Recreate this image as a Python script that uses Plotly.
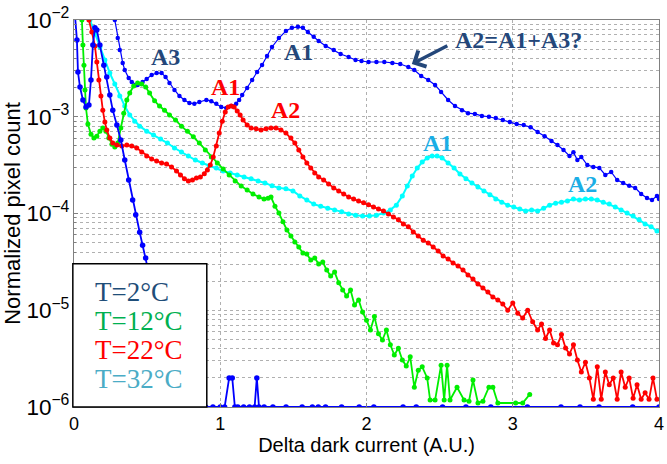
import plotly.graph_objects as go

# ---------------- data ----------------
# steep blue curve (T=2°C)
blue_low_x = [0.0, 0.02, 0.027, 0.041, 0.061, 0.082, 0.102, 0.116, 0.129, 0.143, 0.156, 0.177,
              0.204, 0.224, 0.245, 0.265, 0.293, 0.320, 0.347, 0.374, 0.401, 0.422, 0.449,
              0.469, 0.490, 0.510, 0.551, 0.619, 0.687, 0.72, 0.76, 0.80, 0.85, 0.90, 0.95,
              1.00, 1.03, 1.061, 1.082, 1.10, 1.12, 1.16, 1.20, 1.235, 1.25, 1.265, 1.30, 1.36,
              1.45, 1.56, 1.63, 1.67, 1.72, 1.83, 1.95, 2.05, 2.25, 2.34, 2.52, 2.68, 2.85,
              3.10, 3.33, 3.46, 3.59, 3.82, 4.0]
blue_low_y = [1.5e-2, 6.2e-3, 2.9e-3, 2.03e-3, 1.49e-3, 1.26e-3, 1.32e-3, 2.4e-3, 5.5e-3, 8.3e-3,
              7.9e-3, 5.5e-3, 3.4e-3, 2.58e-3, 1.68e-3, 1.17e-3, 8.2e-4, 5.75e-4, 3.57e-4,
              2.22e-4, 1.38e-4, 9.7e-5, 6.4e-5, 4.7e-5, 3.47e-5, 2.48e-5, 1.28e-5, 4.9e-6,
              1.9e-6, 1e-6, 1e-6, 1e-6, 1e-6, 1e-6, 1e-6,
              1e-6, 1e-6, 2e-6, 2e-6, 1e-6, 1e-6, 1e-6, 1e-6, 1e-6, 2e-6, 1e-6, 1e-6, 1e-6,
              1e-6, 1e-6, 1e-6, 1e-6, 1e-6, 1e-6, 1e-6, 1e-6, 1e-6, 1e-6, 1e-6, 1e-6, 1e-6,
              1e-6, 1e-6, 1e-6, 1e-6, 1e-6, 1e-6]

# upper blue curve (A3, A1, A2 peaks)
blue_high_x = [0.265, 0.279, 0.299, 0.313, 0.333, 0.347, 0.374, 0.395, 0.435, 0.469, 0.497,
               0.531, 0.565, 0.599, 0.626, 0.653, 0.687, 0.721, 0.755, 0.789, 0.823, 0.857,
               0.905, 0.939, 0.973, 1.007, 1.041, 1.075, 1.109, 1.129, 1.150, 1.184, 1.218,
               1.252, 1.286, 1.320, 1.354, 1.401, 1.449, 1.490, 1.531, 1.565, 1.599, 1.639,
               1.673, 1.721, 1.776, 1.823, 1.878, 1.925, 1.966, 2.014, 2.068, 2.122, 2.177,
               2.231, 2.286, 2.327, 2.374, 2.422, 2.469, 2.510, 2.558, 2.605, 2.653, 2.694,
               2.741, 2.789, 2.837, 2.884, 2.932, 2.980, 3.027, 3.075, 3.122, 3.170, 3.218,
               3.265, 3.306, 3.347, 3.388, 3.415, 3.442, 3.469, 3.510, 3.551, 3.592, 3.633,
               3.673, 3.714, 3.755, 3.796, 3.837, 3.878, 3.918, 3.952, 3.986, 4.0]
blue_high_y = [1.3e-2, 1e-2, 6.5e-3, 4.9e-3, 3.6e-3, 3.04e-3, 2.51e-3, 2.29e-3, 2.13e-3, 2.29e-3,
               2.46e-3, 2.7e-3, 2.83e-3, 2.83e-3, 2.58e-3, 2.23e-3, 1.89e-3, 1.64e-3, 1.49e-3,
               1.39e-3, 1.36e-3, 1.42e-3, 1.49e-3, 1.45e-3, 1.36e-3, 1.26e-3, 1.23e-3, 1.29e-3,
               1.36e-3, 1.49e-3, 1.68e-3, 1.98e-3, 2.4e-3, 2.9e-3, 3.43e-3, 4.25e-3, 5.26e-3,
               6.5e-3, 7.7e-3, 8.3e-3, 8.5e-3, 8.3e-3, 7.5e-3, 6.7e-3, 6.07e-3, 5.4e-3, 4.9e-3,
               4.45e-3, 4.15e-3, 3.86e-3, 3.77e-3, 3.68e-3, 3.68e-3, 3.68e-3, 3.6e-3, 3.51e-3,
               3.27e-3, 3.04e-3, 2.64e-3, 2.4e-3, 2.13e-3, 1.80e-3, 1.49e-3, 1.29e-3, 1.17e-3,
               1.09e-3, 1.07e-3, 1.02e-3, 1.0e-3, 9.7e-4, 9.25e-4, 8.8e-4, 8.4e-4, 8.2e-4,
               7.8e-4, 6.95e-4, 6.3e-4, 5.6e-4, 5.1e-4, 4.53e-4, 3.93e-4, 4.3e-4, 3.57e-4,
               3.84e-4, 3.17e-4, 3.03e-4, 2.96e-4, 2.5e-4, 2.69e-4, 2.22e-4, 2.07e-4, 1.93e-4,
               1.84e-4, 1.59e-4, 1.45e-4, 1.38e-4, 1.52e-4, 1.41e-4]

# green curve (T=12°C)
green_x = [0.048, 0.054, 0.061, 0.068, 0.075, 0.082, 0.095, 0.116, 0.136, 0.156, 0.177, 0.197,
           0.218, 0.238, 0.259, 0.279, 0.299, 0.320, 0.340, 0.361, 0.381, 0.408, 0.435, 0.463,
           0.490, 0.517, 0.551, 0.585, 0.619, 0.653, 0.694, 0.735, 0.776, 0.816, 0.857, 0.898,
           0.939, 0.980, 1.020, 1.061, 1.102, 1.143, 1.184, 1.224, 1.265, 1.299, 1.327, 1.347,
           1.374, 1.401, 1.429, 1.456, 1.483, 1.510, 1.537, 1.565, 1.592, 1.619, 1.646, 1.673,
           1.701, 1.728, 1.755, 1.782, 1.810, 1.837, 1.864, 1.891, 1.918, 1.946, 1.973, 2.0,
           2.027, 2.054, 2.082, 2.109, 2.136, 2.163, 2.190, 2.218, 2.245, 2.272, 2.299, 2.327,
           2.354, 2.381, 2.415, 2.435, 2.469, 2.510, 2.531, 2.551, 2.571, 2.619, 2.667, 2.701,
           2.728, 2.762, 2.796, 2.837, 2.864, 2.898, 3.020, 3.068, 3.116]
green_y = [1.3e-2, 1e-2, 5.5e-3, 3.4e-3, 1.89e-3, 1.23e-3, 8.4e-4, 6.6e-4, 6.03e-4, 6.3e-4, 7.1e-4,
           7.65e-4, 7.1e-4, 6.03e-4, 5.2e-4, 4.87e-4, 5.35e-4, 7.65e-4, 1.09e-3, 1.49e-3, 1.76e-3,
           2.08e-3, 2.23e-3, 2.18e-3, 2.03e-3, 1.76e-3, 1.46e-3, 1.29e-3, 1.17e-3, 1.04e-3,
           9.25e-4, 8.0e-4, 7.1e-4, 6.2e-4, 5.35e-4, 4.53e-4, 3.84e-4, 3.33e-4, 2.88e-4, 2.5e-4,
           2.17e-4, 1.92e-4, 1.75e-4, 1.59e-4, 1.48e-4, 1.41e-4, 1.44e-4, 1.48e-4, 1.19e-4,
           1.01e-4, 8.2e-5, 6.75e-5, 5.85e-5, 5.07e-5, 4.5e-5, 3.9e-5, 3.81e-5, 3.3e-5, 3.47e-5,
           3.0e-5, 3.15e-5, 2.6e-5, 2.26e-5, 2.48e-5, 1.92e-5, 1.62e-5, 1.40e-5, 1.62e-5, 1.13e-5,
           1.28e-5, 9.6e-6, 7.9e-6, 6.25e-6, 8.6e-6, 5.7e-6, 4.93e-6, 6.25e-6, 4.4e-6, 3.45e-6,
           4.05e-6, 3.06e-6, 2.65e-6, 3.3e-6, 1.6e-6, 2.4e-6, 2.6e-6, 2.0e-6, 1.18e-6, 1.18e-6,
           2.7e-6, 1.18e-6, 2.7e-6, 1.18e-6, 1.6e-6, 1.18e-6, 1.15e-6, 1.9e-6, 1.1e-6, 1.15e-6,
           1.6e-6, 1.6e-6, 1.1e-6, 1.1e-6, 1.1e-6, 1.35e-6]

# red curve (T=22°C)
red_x = [0.095, 0.102, 0.122, 0.143, 0.156, 0.170, 0.184, 0.197, 0.211, 0.224, 0.245, 0.265,
         0.293, 0.327, 0.361, 0.395, 0.429, 0.463, 0.497, 0.531, 0.565, 0.599, 0.633, 0.667,
         0.701, 0.728, 0.755, 0.782, 0.810, 0.837, 0.864, 0.891, 0.912, 0.932, 0.952, 0.973,
         0.993, 1.014, 1.034, 1.054, 1.075, 1.095, 1.116, 1.136, 1.156, 1.184, 1.211, 1.245,
         1.279, 1.313, 1.347, 1.381, 1.415, 1.449, 1.483, 1.510, 1.537, 1.565, 1.592, 1.619,
         1.646, 1.673, 1.707, 1.741, 1.776, 1.810, 1.844, 1.878, 1.912, 1.946, 1.980, 2.014,
         2.048, 2.082, 2.116, 2.150, 2.184, 2.218, 2.252, 2.286, 2.320, 2.354, 2.388, 2.422,
         2.456, 2.490, 2.524, 2.558, 2.592, 2.626, 2.660, 2.694, 2.728, 2.762, 2.796, 2.830,
         2.864, 2.898, 2.932, 2.966, 3.0, 3.034, 3.068, 3.102, 3.136, 3.170, 3.197, 3.224,
         3.252, 3.279, 3.306, 3.333, 3.361, 3.388, 3.415, 3.442, 3.469, 3.497, 3.524, 3.551,
         3.578, 3.605, 3.633, 3.660, 3.687, 3.714, 3.741, 3.769, 3.796, 3.823, 3.850, 3.878,
         3.905, 3.932, 3.959, 3.986]
red_y = [1.3e-2, 1e-2, 7.5e-3, 5.4e-3, 3.68e-3, 2.4e-3, 1.64e-3, 1.17e-3, 8.8e-4, 7.3e-4, 6.03e-4,
         5.35e-4, 5.1e-4, 4.98e-4, 5.1e-4, 4.98e-4, 4.75e-4, 4.33e-4, 3.93e-4, 3.66e-4, 3.49e-4,
         3.33e-4, 3.25e-4, 3.03e-4, 2.75e-4, 2.5e-4, 2.28e-4, 2.17e-4, 2.22e-4, 2.33e-4, 2.39e-4,
         2.57e-4, 2.82e-4, 3.17e-4, 3.84e-4, 4.99e-4, 6.8e-4, 9.0e-4, 1.12e-3, 1.26e-3, 1.29e-3,
         1.26e-3, 1.15e-3, 1.04e-3, 9.25e-4, 8.2e-4, 7.65e-4, 7.5e-4, 7.3e-4, 7.5e-4, 7.65e-4,
         7.65e-4, 7.3e-4, 6.8e-4, 6.03e-4, 5.35e-4, 4.53e-4, 3.84e-4, 3.33e-4, 2.95e-4, 2.62e-4,
         2.39e-4, 2.22e-4, 2.02e-4, 1.84e-4, 1.71e-4, 1.59e-4, 1.48e-4, 1.41e-4, 1.35e-4,
         1.29e-4, 1.23e-4, 1.17e-4, 1.11e-4, 1.06e-4, 9.9e-5, 9.2e-5, 8.6e-5, 7.8e-5, 7.3e-5,
         6.45e-5, 5.85e-5, 5.3e-5, 4.95e-5, 4.5e-5, 4.1e-5, 3.63e-5, 3.38e-5, 3.08e-5, 2.87e-5,
         2.6e-5, 2.31e-5, 2.1e-5, 1.87e-5, 1.7e-5, 1.54e-5, 1.37e-5, 1.28e-5, 1.16e-5, 1.0e-5,
         1.19e-5, 9.3e-6, 8.3e-6, 1.0e-5, 7.6e-6, 6.25e-6, 7.2e-6, 5.1e-6, 6.25e-6, 4.6e-6,
         4.4e-6, 5.6e-6, 4.07e-6, 3.53e-6, 4.4e-6, 3.06e-6, 2.3e-6, 2.9e-6, 2.0e-6, 1.2e-6,
         2.6e-6, 1.2e-6, 2.3e-6, 1.7e-6, 2.0e-6, 1.2e-6, 2.3e-6, 1.6e-6, 2.0e-6, 1.23e-6,
         1.7e-6, 1.2e-6, 1.4e-6, 1.2e-6, 2.0e-6, 1.2e-6]

# cyan curve (T=32°C)
cyan_x = [0.095, 0.109, 0.143, 0.177, 0.211, 0.245, 0.279, 0.313, 0.347, 0.381, 0.415, 0.449,
          0.497, 0.544, 0.592, 0.639, 0.687, 0.735, 0.782, 0.830, 0.878, 0.925, 0.973, 1.020,
          1.068, 1.116, 1.163, 1.211, 1.259, 1.306, 1.354, 1.401, 1.449, 1.497, 1.544, 1.592,
          1.639, 1.687, 1.735, 1.782, 1.830, 1.878, 1.925, 1.973, 2.020, 2.068, 2.116, 2.163,
          2.204, 2.245, 2.279, 2.313, 2.347, 2.381, 2.415, 2.449, 2.483, 2.517, 2.558, 2.599,
          2.639, 2.680, 2.721, 2.762, 2.803, 2.844, 2.884, 2.925, 2.966, 3.007, 3.048, 3.088,
          3.129, 3.170, 3.211, 3.252, 3.293, 3.333, 3.374, 3.415, 3.456, 3.497, 3.537, 3.578,
          3.619, 3.660, 3.701, 3.741, 3.782, 3.823, 3.864, 3.905, 3.946, 3.986]
cyan_y = [1.3e-2, 1e-2, 7.3e-3, 5.26e-3, 3.86e-3, 2.83e-3, 2.18e-3, 1.64e-3, 1.29e-3, 1.04e-3,
          9.0e-4, 8.0e-4, 7.1e-4, 6.47e-4, 5.9e-4, 5.35e-4, 4.75e-4, 4.33e-4, 3.93e-4, 3.57e-4,
          3.33e-4, 3.11e-4, 2.95e-4, 2.75e-4, 2.62e-4, 2.5e-4, 2.39e-4, 2.28e-4, 2.17e-4,
          2.07e-4, 1.93e-4, 1.84e-4, 1.80e-4, 1.71e-4, 1.52e-4, 1.38e-4, 1.25e-4, 1.19e-4,
          1.13e-4, 1.09e-4, 1.04e-4, 9.9e-5, 9.6e-5, 9.4e-5, 9.4e-5, 9.6e-5, 1.01e-4, 1.09e-4,
          1.22e-4, 1.52e-4, 1.92e-4, 2.44e-4, 2.95e-4, 3.4e-4, 3.75e-4, 3.93e-4, 3.93e-4,
          3.75e-4, 3.33e-4, 2.95e-4, 2.56e-4, 2.28e-4, 2.07e-4, 1.88e-4, 1.71e-4, 1.56e-4,
          1.41e-4, 1.31e-4, 1.22e-4, 1.17e-4, 1.11e-4, 1.06e-4, 1.09e-4, 1.06e-4, 1.13e-4,
          1.22e-4, 1.28e-4, 1.31e-4, 1.35e-4, 1.41e-4, 1.38e-4, 1.41e-4, 1.41e-4, 1.38e-4,
          1.31e-4, 1.25e-4, 1.17e-4, 1.09e-4, 1.01e-4, 9.4e-5, 8.6e-5, 7.8e-5, 7.3e-5, 6.6e-5]

legend_labels = ["T=2°C", "T=12°C", "T=22°C", "T=32°C"]
legend_colors = ["#1F4E79", "#00B050", "#FF0000", "#4BACC6"]

x_title = "Delta dark current (A.U.)"
y_title = "Normalized pixel count"

# ---------------- figure ----------------
fig = go.Figure()

def add_series(x, y, color, msize=5, lw=1.8):
    fig.add_trace(go.Scatter(x=x, y=y, mode="lines+markers",
                             line=dict(color=color, width=lw),
                             marker=dict(color=color, size=msize),
                             showlegend=False))

add_series(blue_high_x, blue_high_y, "#0000FF", msize=4.5, lw=1.2)
add_series(cyan_x, cyan_y, "#00FFFF", msize=5, lw=2)
add_series(green_x, green_y, "#00EE00", msize=5, lw=1.8)
add_series(red_x, red_y, "#FF0000", msize=5, lw=1.8)
add_series(blue_low_x, blue_low_y, "#0000FF", msize=5.5, lw=1.8)

# legend box (opaque, drawn above the curves)
fig.add_shape(type="rect", xref="paper", yref="paper", x0=-0.002, x1=0.227, y0=0, y1=0.37,
              fillcolor="white", line=dict(color="black", width=1.5), layer="above")
legend_y = [0.297, 0.223, 0.146, 0.073]
for lab, col, yy in zip(legend_labels, legend_colors, legend_y):
    fig.add_annotation(x=0.032, y=yy, xref="paper", yref="paper", text=lab, showarrow=False,
                       xanchor="left", yanchor="middle",
                       font=dict(family="Liberation Serif", size=27, color=col))

dark_blue = "#24477A"
peak_font = dict(family="Liberation Serif", size=24)
labels = [
    ("A3", 0.626, -2.382, dark_blue),
    ("A1", 1.034, -2.692, "#FF0000"),
    ("A2", 1.449, -2.935, "#FF0000"),
    ("A1", 1.537, -2.331, dark_blue),
    ("A1", 2.483, -3.271, "#1AAEE6"),
    ("A2", 3.476, -3.695, "#1AAEE6"),
]
for txt, xx, yy, col in labels:
    fig.add_annotation(x=xx, y=yy, text="<b>%s</b>" % txt, showarrow=False,
                       font=dict(color=col, **peak_font))

fig.add_annotation(x=3.04, y=-2.207, text="<b>A2=A1+A3?</b>", showarrow=False,
                   font=dict(color=dark_blue, **peak_font))
fig.add_annotation(x=2.31, y=-2.455, text="", showarrow=True, ax=37, ay=-19,
                   arrowcolor=dark_blue, arrowwidth=3.5, arrowhead=4, arrowsize=1)

grid = "#B0B0B0"
fig.update_layout(
    width=667, height=464,
    margin=dict(l=74, r=3, t=20, b=57),
    paper_bgcolor="white", plot_bgcolor="white",
    font=dict(family="Liberation Sans", color="black"),
    xaxis=dict(range=[0, 4], dtick=1, showgrid=True, gridcolor=grid, griddash="dot",
               gridwidth=1, zeroline=False, showline=True, linecolor="#808080", mirror=True,
               ticks="inside", ticklen=4, tickcolor="#808080", ticklabeloverflow="allow",
               tickfont=dict(size=18), title=dict(text=x_title, font=dict(size=20), standoff=4)),
    yaxis=dict(type="log", range=[-6, -2], dtick=1, exponentformat="power",
               showgrid=True, gridcolor=grid, griddash="dot", gridwidth=1,
               zeroline=False, showline=True, linecolor="#808080", mirror=True,
               ticks="inside", ticklen=4, tickcolor="#808080",
               minor=dict(dtick="D1", showgrid=True, gridcolor=grid, griddash="dot",
                          ticks="inside", ticklen=2, tickcolor="#808080"),
               tickfont=dict(size=18), title=dict(text=y_title, font=dict(size=22), standoff=2)),
)

fig.write_html("out.html")
